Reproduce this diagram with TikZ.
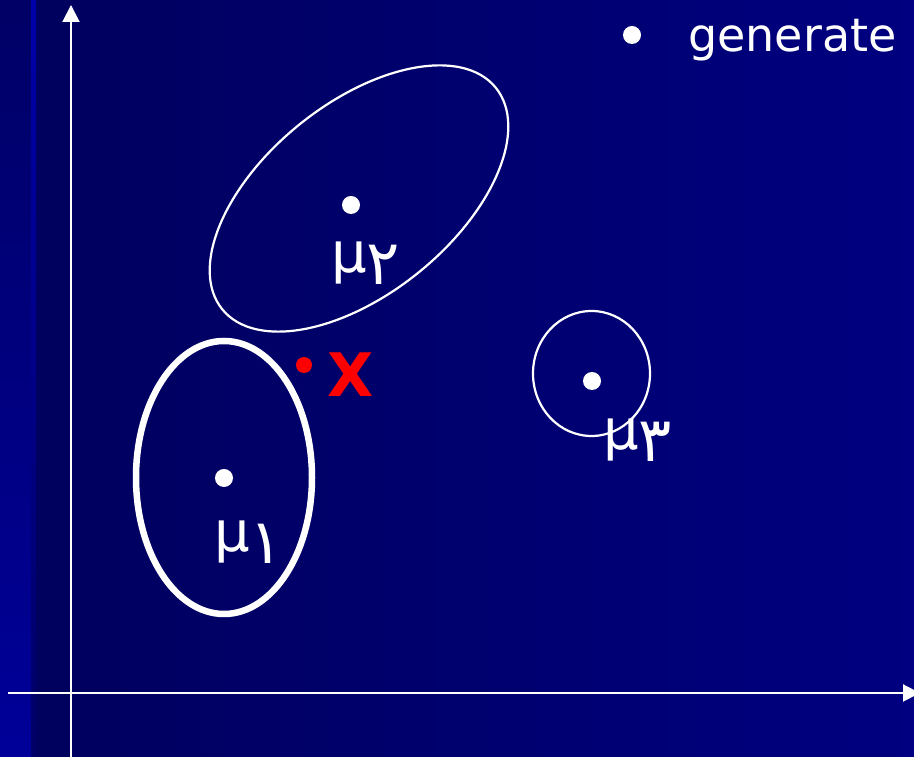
\documentclass[tikz,border=0pt]{standalone}
\usepackage{fontspec}
\setmainfont{DejaVu Sans}
\newfontfamily\arabicfont[Script=Arabic]{DejaVu Sans}
\usetikzlibrary{arrows.meta, positioning}

\definecolor{fondoizq}{HTML}{00005E}
\definecolor{fondoder}{HTML}{000080}
\definecolor{franjaarr}{HTML}{000066}
\definecolor{franjaab}{HTML}{000099}
\definecolor{rojo}{HTML}{FF0000}

\newcommand{\subfa}[1]{\raisebox{-12pt}{\arabicfont\fontsize{62}{70}\selectfont #1}}

\begin{document}
\begin{tikzpicture}[
    x=1pt, y=1pt,
    punto/.style={circle, fill=white, inner sep=0pt, minimum size=18pt},
    media/.style={anchor=base west, inner sep=0pt, text=white, font=\fontsize{56}{64}\selectfont},
    eje/.style={white, line width=2pt, -{Triangle[length=17pt, width=17pt]}},
    grupo/.style={white, line width=2.2pt}
]
    \useasboundingbox (0,0) rectangle (914,757);
    \clip (0,0) rectangle (914,757);

    % Fondo
    \shade[left color=fondoizq, right color=fondoder] (32,0) rectangle (914,757);
    \shade[top color=franjaarr, bottom color=franjaab] (0,0) rectangle (32,757);
    \shade[top color=blue!66!black, bottom color=franjaarr] (31,0) rectangle (36,757);

    % Ejes
    \coordinate (yini) at (71,0);
    \coordinate (yfin) at (71,752);
    \coordinate (xini) at (8,64);
    \coordinate (xfin) at (920,64);
    \draw[eje] (yini) -- (yfin);
    \draw[eje] (xini) -- (xfin);

    % Grupos
    \draw[white, line width=6.5pt] (224,279.5) ellipse [x radius=88, y radius=136.5];
    \draw[grupo, rotate around={39:(359,558.5)}] (359,558.5) ellipse [x radius=176, y radius=95];
    \draw[grupo] (591.5,383.5) ellipse [x radius=58.5, y radius=62.5];

    % Medias
    \node[punto] (mu1) at (224,279) {};
    \node[punto] (mu2) at (351,552) {};
    \node[punto] (mu3) at (592,376) {};
    \node[media] (lab1) at (214,205) {μ\subfa{۱}};
    \node[media] (lab2) at (331,484) {μ\subfa{۲}};
    \node[media] (lab3) at (603,307) {μ\subfa{۳}};

    % Punto x
    \node[circle, fill=rojo, inner sep=0pt, minimum size=16pt] (px) at (304,392) {};
    \node[inner sep=0pt, text=rojo, font=\fontsize{60}{72}\selectfont\bfseries] (lx) at (350.5,382.5) {X};

    % Leyenda
    \node[punto] (bul) at (632,722) {};
    \node[anchor=base west, inner sep=0pt, text=white, font=\fontsize{46}{55}\selectfont] (gen) at (688,705) {generate};
\end{tikzpicture}
\end{document}
